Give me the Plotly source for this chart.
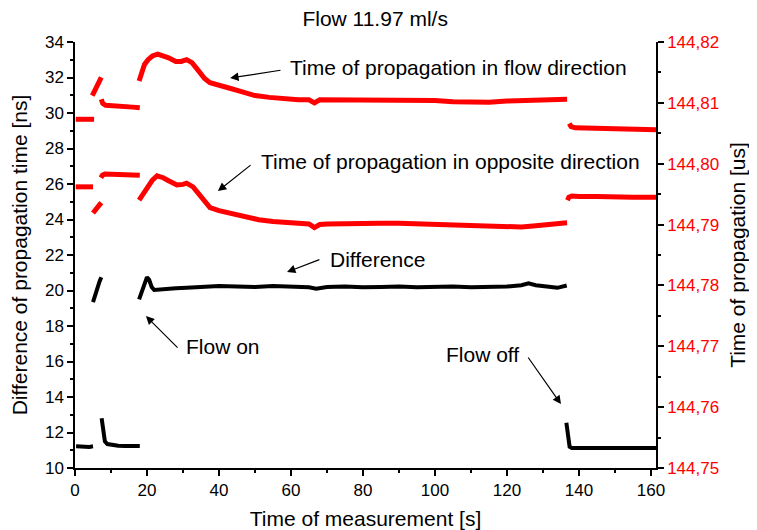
import plotly.graph_objs as go

# time [s] and values, segments separated by None
flow_t = [0.2, 1.5, 3.0, 4.5, 5.3, None,
          4.8, 5.6, 6.5, 7.3, None,
          7.3, 7.7, 8.5, 10, 12, 14, 16, 18, None,
          17.8, 18.5, 19.3, 20.3, 21.5, 23, 24.5, 26, 28, 29.5, 31, 32.5, 34, 36, 37.5,
          40, 43, 46, 50, 54, 58, 62, 65, 66.5, 68, 70, 75, 80, 85, 90, 95, 100, 105,
          110, 115, 120, 125, 130, 134, 136.7, None,
          137.3, 137.8, 139, 145, 150, 155, 161.4]
flow_us = [144.8073, 144.8073, 144.8072, 144.8073, 144.8073, None,
           144.8112, 144.8122, 144.8132, 144.8142, None,
           144.8106, 144.8099, 144.8096, 144.8095, 144.8094, 144.8094, 144.8093, 144.8092, None,
           144.8136, 144.8150, 144.8163, 144.8171, 144.8177, 144.8180, 144.8178, 144.8174,
           144.8168, 144.8168, 144.8171, 144.8166, 144.8155, 144.8140, 144.8133,
           144.8128, 144.8124, 144.8119, 144.8112, 144.8109, 144.8106, 144.8105, 144.8105,
           144.8100, 144.8105, 144.8105, 144.8104, 144.8103, 144.8104, 144.8104, 144.8103,
           144.8104, 144.8102, 144.8101, 144.8101, 144.8103, 144.8104, 144.8104, 144.8105,
           144.8106, None,
           144.8066, 144.8061, 144.8059, 144.8058, 144.8057, 144.8057, 144.8056]

opp_t = [0.2, 1.5, 3.0, 4.0, 5.0, None,
         5.0, 5.8, 6.6, 7.3, None,
         7.2, 7.6, 8.3, 10, 12, 14, 16, 18, None,
         17.8, 18.6, 19.5, 20.3, 21.5, 22.8, 24.5, 26, 28.3, 30, 31, 32.8, 34.5, 36, 37.5,
         40, 43, 47, 51, 55, 60, 65, 66.5, 68, 70, 75, 80, 85, 90, 95, 100, 105, 110,
         115, 120, 124, 128, 132, 136.7, None,
         136.8, 137.2, 138, 140, 145, 150, 155, 161.4]
opp_us = [144.7962, 144.7962, 144.7961, 144.7962, 144.7962, None,
          144.7919, 144.7924, 144.7930, 144.7936, None,
          144.7977, 144.7981, 144.7983, 144.7983, 144.7982, 144.7982, 144.7981, 144.7981, None,
          144.7940, 144.7948, 144.7956, 144.7962, 144.7973, 144.7980, 144.7977, 144.7972,
          144.7965, 144.7966, 144.7968, 144.7962, 144.7950, 144.7938, 144.7928,
          144.7923, 144.7919, 144.7913, 144.7908, 144.7905, 144.7902, 144.7901, 144.7895,
          144.7900, 144.7901, 144.7902, 144.7901, 144.7902, 144.7902, 144.7901, 144.7902,
          144.7901, 144.7899, 144.7898, 144.7897, 144.7896, 144.7898, 144.7900, 144.7903, None,
          144.7940, 144.7945, 144.7947, 144.7946, 144.7946, 144.7945, 144.7945, 144.7945]

diff_t = [0.3, 1.5, 3.0, 4.0, 5.0, None,
          5.0, 5.6, 6.2, 6.8, 7.3, None,
          7.4, 7.6, 7.9, 8.3, 9, 10, 12, 14, 16, 18, None,
          17.8, 18.5, 19.2, 20, 20.6, 21.3, 22, 23, 25, 28, 31, 35, 40, 45, 50, 55, 60,
          65, 67, 70, 75, 80, 85, 90, 95, 100, 105, 110, 115, 120, 124, 126, 128, 131,
          134, 136.6, None,
          136.5, 136.7, 136.9, 137.1, 137.4, 138, 140, 145, 150, 155, 161.4]
diff_ns = [11.22, 11.20, 11.21, 11.19, 11.22, None,
           19.35, 19.8, 20.2, 20.5, 20.75, None,
           12.8, 12.4, 11.8, 11.5, 11.35, 11.3, 11.25, 11.24, 11.22, 11.24, None,
           19.5, 19.9, 20.4, 20.75, 20.6, 20.2, 20.03, 20.05, 20.1, 20.12, 20.15, 20.2,
           20.25, 20.22, 20.2, 20.25, 20.22, 20.18, 20.1, 20.2, 20.22, 20.18, 20.2, 20.22,
           20.18, 20.2, 20.22, 20.18, 20.2, 20.22, 20.3, 20.4, 20.3, 20.22, 20.15, 20.28, None,
           12.55, 12.2, 11.8, 11.4, 11.2, 11.13, 11.12, 11.13, 11.12, 11.13, 11.12]

y2_ticks = [144.75, 144.76, 144.77, 144.78, 144.79, 144.80, 144.81, 144.82]
y2_labels = ["144,75", "144,76", "144,77", "144,78", "144,79", "144,80", "144,81", "144,82"]

FONT = "Liberation Sans, Arial, sans-serif"

fig = go.Figure()
fig.add_trace(go.Scatter(x=flow_t, y=flow_us, yaxis="y2", mode="lines",
                         line=dict(color="#ff0000", width=5), connectgaps=False))
fig.add_trace(go.Scatter(x=opp_t, y=opp_us, yaxis="y2", mode="lines",
                         line=dict(color="#ff0000", width=5), connectgaps=False))
fig.add_trace(go.Scatter(x=diff_t, y=diff_ns, mode="lines",
                         line=dict(color="black", width=4), connectgaps=False))

axis_common = dict(showline=True, linecolor="black", linewidth=1.5, ticks="outside",
                   ticklen=6, tickwidth=1.5, tickcolor="black", showgrid=False,
                   zeroline=False, automargin=False, tickfont=dict(size=17))

fig.update_layout(
    width=757, height=530,
    # page body adds 8px on the top/left
    margin=dict(l=67, r=109, t=34, b=70),
    paper_bgcolor="white", plot_bgcolor="white",
    showlegend=False,
    font=dict(family=FONT, color="black", size=17),
    title=dict(text="Flow 11.97 ml/s", x=0.485, xanchor="center", y=0.994, yanchor="top",
               pad=dict(t=0), font=dict(size=21)),
    xaxis=dict(range=[0, 161.4], dtick=20, tick0=0,
               minor=dict(dtick=10, ticks="outside", ticklen=3, tickcolor="black"),
               title=dict(text="Time of measurement [s]", font=dict(size=21), standoff=12),
               **axis_common),
    yaxis=dict(range=[10, 34], dtick=2, tick0=10,
               minor=dict(dtick=1, ticks="outside", ticklen=3, tickcolor="black"),
               title=dict(text="Difference of propagation time [ns]", font=dict(size=21),
                          standoff=12),
               **axis_common),
)
fig.update_layout(
    yaxis2=dict(range=[144.75, 144.82], overlaying="y", side="right", anchor="x",
                tickvals=y2_ticks, ticktext=y2_labels,
                minor=dict(dtick=0.005, ticks="outside", ticklen=3, tickcolor="black"),
                title=dict(text="Time of propagation [us]", font=dict(size=21), standoff=12),
                showline=True, linecolor="black", linewidth=1.5, ticks="outside",
                ticklen=6, tickwidth=1.5, tickcolor="black", showgrid=False,
                zeroline=False, automargin=False, tickfont=dict(size=17, color="#ff0000")),
)

# arrows: (tail x, tail y, tip x, tip y) in data coords of left axis
arrows = [(57.5, 32.42, 43.1, 31.97),
          (49.2, 27.13, 39.7, 25.6),
          (68.3, 21.77, 58.9, 21.04),
          (28.9, 16.7, 19.7, 18.56),
          (125.6, 16.31, 135.0, 13.6)]
for tx, ty, hx, hy in arrows:
    fig.add_annotation(x=hx, y=hy, ax=tx, ay=ty, xref="x", yref="y", axref="x", ayref="y",
                       text="", showarrow=True, arrowhead=2, arrowsize=1.4, arrowwidth=1.2,
                       arrowcolor="black")

labels = [("Time of propagation in flow direction", 59.2, 32.59, "left"),
          ("Time of propagation in opposite direction", 51.1, 27.24, "left"),
          ("Difference", 70.3, 21.77, "left"),
          ("Flow on", 30.3, 16.82, "left"),
          ("Flow off", 123.9, 16.37, "right")]
for txt, lx, ly, anc in labels:
    fig.add_annotation(x=lx, y=ly, xref="x", yref="y", text=txt, showarrow=False,
                       xanchor=anc, yanchor="middle", font=dict(size=21))

fig.write_html("out.html")
